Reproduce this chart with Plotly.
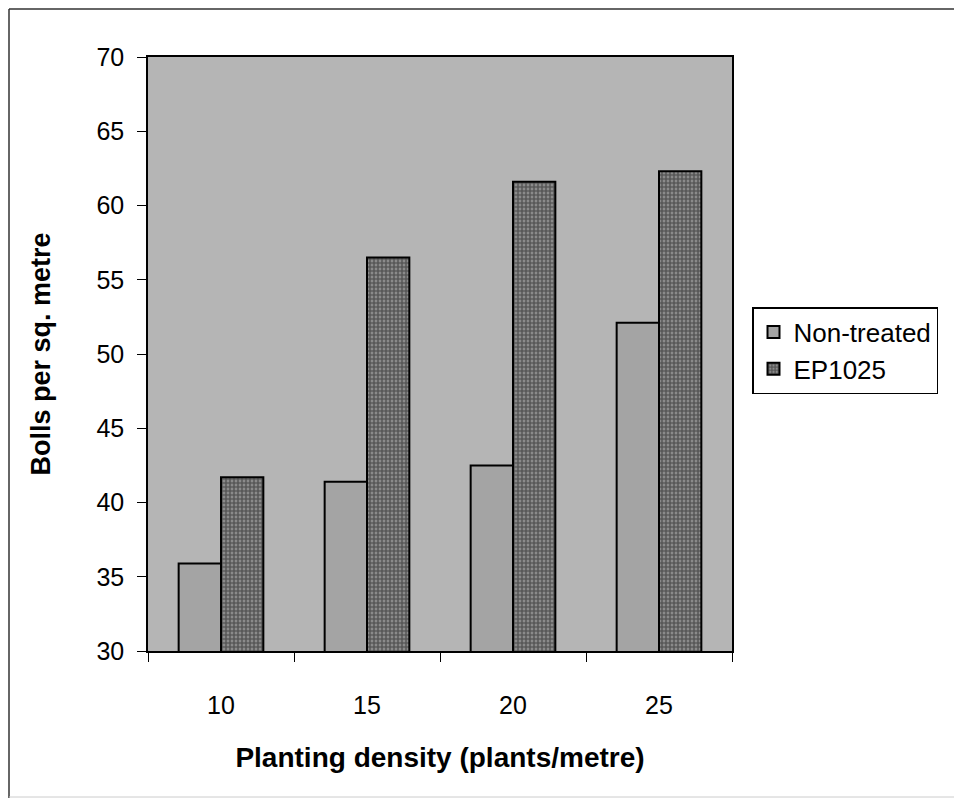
import plotly.graph_objects as go

densities = ["10", "15", "20", "25"]
non_treated = [35.9, 41.4, 42.5, 52.1]
ep1025 = [41.7, 56.5, 61.6, 62.3]

W, H = 954, 801
L, R, T, B = 148, 222, 57, 150
pw, ph = W - L - R, H - T - B

def px_x(x):
    return (x - L) / pw

def px_y(y):
    return (H - B - y) / ph

fig = go.Figure()
fig.add_trace(go.Bar(
    x=densities, y=non_treated, name="Non-treated",
    marker=dict(color="#a4a4a4", line=dict(color="black", width=2)),
))
fig.add_trace(go.Bar(
    x=densities, y=ep1025, name="EP1025",
    marker=dict(color="#6e6e6e", line=dict(color="black", width=2),
                pattern=dict(shape=".", fgcolor="#111111", bgcolor="#a0a0a0",
                             size=4, solidity=0.75)),
))

font = "Liberation Sans, Arial, sans-serif"
fig.update_layout(
    width=W, height=H,
    margin=dict(l=L, r=R, t=T, b=B),
    paper_bgcolor="white",
    plot_bgcolor="#b5b5b5",
    barmode="group",
    bargap=0.42,
    bargroupgap=0,
    font=dict(family=font, color="black", size=25),
    showlegend=True,
    legend=dict(
        x=px_x(752), y=px_y(307), xanchor="left", yanchor="top",
        bordercolor="black", borderwidth=1.5, bgcolor="white",
        font=dict(size=26, family=font), itemwidth=30,
        tracegroupgap=0,
    ),
    xaxis=dict(
        type="category", tickson="boundaries", ticks="outside", ticklen=9,
        tickcolor="black", showline=True, linecolor="black", linewidth=1.5,
        mirror=True, showgrid=False, ticklabelstandoff=31,
        tickfont=dict(size=25),
        title=dict(text="<b>Planting density (plants/metre)</b>",
                   font=dict(size=28), standoff=30),
    ),
    yaxis=dict(
        range=[30, 70], dtick=5, ticks="outside", ticklen=9, tickcolor="black",
        showline=True, linecolor="black", linewidth=1.5, mirror=True,
        showgrid=False, zeroline=False, tickfont=dict(size=25),
        ticklabelstandoff=8,
        title=dict(text="<b>Bolls per sq. metre</b>", font=dict(size=27),
                   standoff=38),
    ),
)

# outer frame of the figure
fig.add_shape(type="line", xref="paper", yref="paper",
              x0=px_x(9), x1=px_x(9), y0=px_y(9), y1=px_y(798),
              line=dict(color="#333333", width=1.5))
fig.add_shape(type="line", xref="paper", yref="paper",
              x0=px_x(9), x1=px_x(960), y0=px_y(9), y1=px_y(9),
              line=dict(color="#333333", width=1.5))
fig.add_shape(type="line", xref="paper", yref="paper",
              x0=px_x(9), x1=px_x(960), y0=px_y(797), y1=px_y(797),
              line=dict(color="#cccccc", width=1))

fig.write_html("out.html")
